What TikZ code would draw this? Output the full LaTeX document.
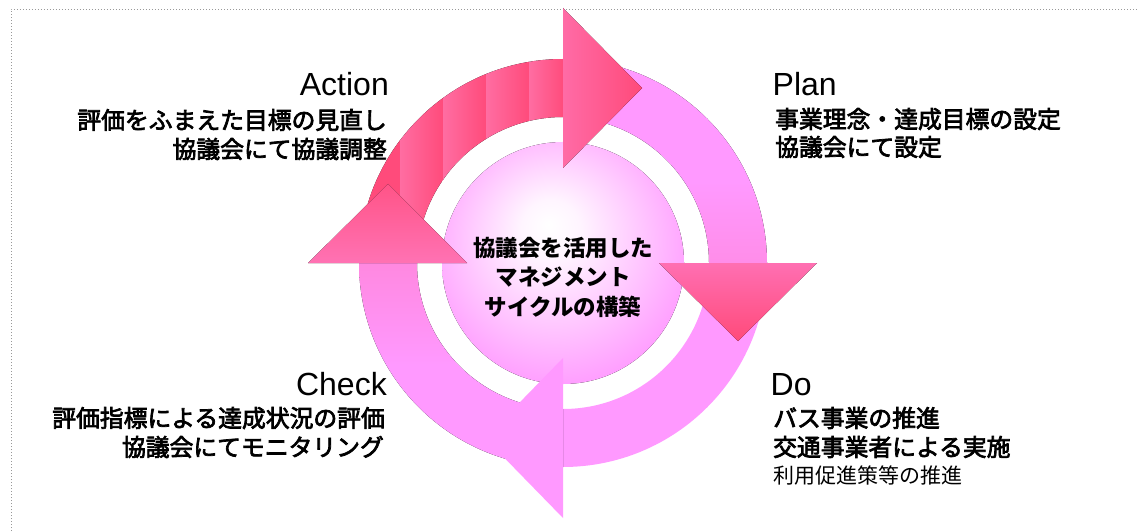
\documentclass[tikz,border=0pt]{standalone}
\usepackage{fontspec}
\setmainfont{Liberation Sans}
\newfontfamily\jp{Noto Sans CJK JP}
\newfontfamily\jpm[FakeBold=3]{Noto Sans CJK JP}
\definecolor{lpink}{HTML}{FF99FF}
\definecolor{mpink}{HTML}{FF6FB2}
\definecolor{hpink}{HTML}{FF6BA6}
\definecolor{dpink}{HTML}{FF4A7A}
\definecolor{stripeL}{HTML}{FF6DA2}
\definecolor{stripeD}{HTML}{FF4B7B}
\pgfdeclareradialshading{ballshade}{\pgfpoint{-3bp}{8bp}}{color(0bp)=(white); color(6bp)=(white!90!lpink); color(30bp)=(lpink); color(50bp)=(lpink)}
\pgfdeclareverticalshading{trshade}{100bp}{color(0bp)=(mpink!65!lpink); color(45bp)=(lpink); color(100bp)=(lpink)}
\pgfdeclareverticalshading{blshade}{100bp}{color(0bp)=(lpink); color(50bp)=(lpink); color(100bp)=(mpink!80!lpink)}
\tikzset{
  ttl/.style={font=\fontsize{32}{32}\selectfont, inner sep=0pt},
  jtxt/.style={font=\jpm\fontsize{23.8}{23.8}\selectfont, inner sep=0pt},
  jsmall/.style={font=\jp\fontsize{21}{21}\selectfont, inner sep=0pt},
  jcenter/.style={font=\jp\bfseries\fontsize{22.5}{22.5}\selectfont, inner sep=0pt},
  border/.style={draw=gray!80, line width=0.9pt, dash pattern=on 0.9pt off 2.1pt},
}
\begin{document}
\begin{tikzpicture}[x=1pt,y=1pt]
\useasboundingbox (0,0) rectangle (1137,531);
\coordinate (O) at (563,268);
% dotted frame
\draw[border] (11,0) -- (11,522) -- (1137,522);
% top-left arc (red, striped)
\begin{scope}
  \clip (O) ++(180:204) arc[start angle=180,end angle=90,radius=204] -- ++(0,-58) arc[start angle=90,end angle=180,radius=146] -- cycle;
  \fill[left color=stripeD, right color=stripeD] (350,260) rectangle (400,480);
  \fill[left color=stripeL, right color=stripeD] (400,260) rectangle (443,480);
  \fill[left color=stripeL, right color=stripeD] (443,260) rectangle (486,480);
  \fill[left color=stripeL, right color=stripeD] (486,260) rectangle (529,480);
  \fill[left color=stripeL, right color=stripeD] (529,260) rectangle (564,480);
\end{scope}
% top-right arc
\fill[shading=trshade] (O) ++(90:204) arc[start angle=90,end angle=0,radius=204] -- ++(-58,0) arc[start angle=0,end angle=90,radius=146] -- cycle;
% bottom-right arc
\fill[lpink] (O) ++(0:204) arc[start angle=0,end angle=-90,radius=204] -- ++(0,58) arc[start angle=-90,end angle=0,radius=146] -- cycle;
% bottom-left arc
\fill[shading=blshade] (O) ++(-90:204) arc[start angle=-90,end angle=-180,radius=204] -- ++(58,0) arc[start angle=180,end angle=270,radius=146] -- cycle;
% centre disc
\fill[shading=ballshade] (O) circle[radius=121];
% arrow heads
\fill[left color=hpink, right color=dpink] (563,523) -- (563,363) -- (642,443) -- cycle;
\fill[top color=mpink, bottom color=dpink] (659,268) -- (817,268) -- (738,190) -- cycle;
\fill[lpink] (563,173) -- (563,13) -- (485,93) -- cycle;
\fill[bottom color=hpink!85!lpink, top color=dpink!70!hpink] (308,268) -- (467,268) -- (388,347) -- cycle;
% centre text
\node[jcenter, anchor=base] (c1) at (563,274.5) {協議会を活用した};
\node[jcenter, anchor=base] (c2) at (563,245.5) {マネジメント};
\node[jcenter, anchor=base] (c3) at (563,215.5) {サイクルの構築};
% Action
\node[ttl, anchor=base east] (act) at (389,435) {Action};
\node[jtxt, anchor=base east] (act1) at (387,402) {評価をふまえた目標の見直し};
\node[jtxt, anchor=base east] (act2) at (387,373) {協議会にて協議調整};
% Plan
\node[ttl, anchor=base west] (plan) at (772.5,435) {Plan};
\node[jtxt, anchor=base west] (plan1) at (775,403) {事業理念・達成目標の設定};
\node[jtxt, anchor=base west] (plan2) at (775,375) {協議会にて設定};
% Check
\node[ttl, anchor=base east] (chk) at (387,136) {Check};
\node[jtxt, anchor=base east] (chk1) at (385,104) {評価指標による達成状況の評価};
\node[jtxt, anchor=base east] (chk2) at (384,75) {協議会にてモニタリング};
% Do
\node[ttl, anchor=base west] (do) at (770.5,136) {Do};
\node[jtxt, anchor=base west] (do1) at (773,104) {バス事業の推進};
\node[jtxt, anchor=base west] (do2) at (773,75) {交通事業者による実施};
\node[jsmall, anchor=base west] (do3) at (773,48) {利用促進策等の推進};
\end{tikzpicture}
\end{document}
